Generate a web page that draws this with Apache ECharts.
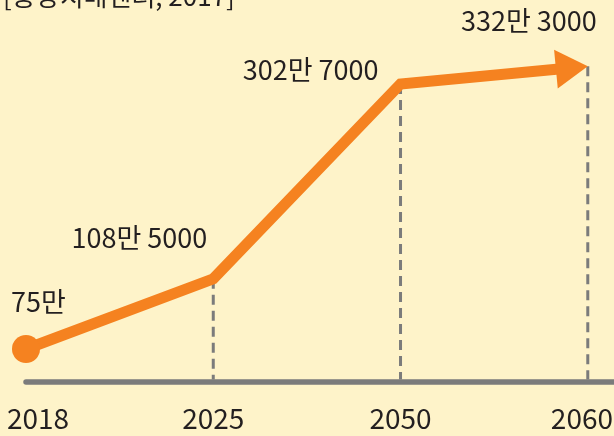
<!DOCTYPE html>
<html><head><meta charset="utf-8">
<script src="https://cdn.jsdelivr.net/npm/echarts@6/dist/echarts.min.js"></script>
<style>html,body{margin:0;padding:0;background:#FEF3C9;}#c{width:614px;height:436px;}</style>
</head><body><div id="c"></div>
<script>
// ---- data ----
const years = ['2018', '2025', '2050', '2060'];
const values = [75, 108.5, 302.7, 332.3];            // 만 명
const valueLabels = ['75만', '108만 5000', '302만 7000', '332만 3000'];
const sourceText = '[중앙치매센터, 2017]';

// ---- style ----
const BG = '#FEF3C9', ORANGE = '#F58220', GRAY = '#7B7B7B', TEXT = '#231F20';
const FONT = '"Noto Sans CJK KR","Noto Sans",sans-serif';
const Y_MIN = 63.04, Y_MAX = 470.8;
// label placement relative to its point: [dx, dy, align]
const labelOffsets = [[-15, -47, 'left'], [-6, -41, 'right'], [-22, -14, 'right'], [9, -45, 'right']];

const seriesData = values.map((v, i) => [i, v]);

const chart = echarts.init(document.getElementById('c'), null, { renderer: 'canvas' });

function renderAll(params, api) {
  if (params.dataIndex !== 0) return null;
  const pts = seriesData.map(d => api.coord(d));
  const axisY = api.coord([0, Y_MIN])[1];
  const W = api.getWidth();
  const children = [];
  // dashed drop lines
  for (let i = 1; i < pts.length; i++) {
    children.push({
      type: 'line',
      shape: { x1: pts[i][0], y1: pts[i][1], x2: pts[i][0], y2: axisY - 2.5 },
      style: { stroke: GRAY, lineWidth: 3, lineDash: [10, 6] }
    });
  }
  // arrow geometry at last point
  const n = pts.length;
  const P = pts[n - 1], Q = pts[n - 2];
  let dx = P[0] - Q[0], dy = P[1] - Q[1];
  const L = Math.sqrt(dx * dx + dy * dy); dx /= L; dy /= L;
  const ahLen = 32, ahHalf = 19.5;
  const bx = P[0] - dx * ahLen, by = P[1] - dy * ahLen;
  const nx = -dy, ny = dx;
  const linePts = pts.slice(0, n - 1).concat([[bx + dx * 3, by + dy * 3]]);
  children.push({
    type: 'polyline',
    shape: { points: linePts },
    style: { stroke: ORANGE, lineWidth: 11, fill: null, lineJoin: 'miter', lineCap: 'butt' }
  });
  children.push({
    type: 'polygon',
    shape: { points: [P, [bx + nx * ahHalf, by + ny * ahHalf], [bx - nx * ahHalf, by - ny * ahHalf]] },
    style: { fill: ORANGE }
  });
  children.push({
    type: 'circle',
    shape: { cx: pts[0][0], cy: pts[0][1], r: 14 },
    style: { fill: ORANGE }
  });
  // value labels
  for (let i = 0; i < n; i++) {
    const o = labelOffsets[i];
    children.push({
      type: 'text',
      x: pts[i][0] + o[0], y: pts[i][1] + o[1],
      style: { text: valueLabels[i], fill: TEXT, font: '27px ' + FONT, align: o[2], verticalAlign: 'middle' }
    });
  }
  // year labels, kept inside the canvas
  for (let i = 0; i < n; i++) {
    const fs = 28;
    const tw = echarts.format.getTextRect ? echarts.format.getTextRect(years[i], fs + 'px ' + FONT).width : 60;
    let cx = pts[i][0];
    cx = Math.max(7 + tw / 2, Math.min(W - 1 - tw / 2, cx));
    children.push({
      type: 'text',
      x: cx, y: axisY + 36,
      style: { text: years[i], fill: TEXT, font: fs + 'px ' + FONT, align: 'center', verticalAlign: 'middle' }
    });
  }
  return { type: 'group', children: children };
}

chart.setOption({
  backgroundColor: BG,
  animation: false,
  grid: { left: 26, right: 0, top: 0, bottom: 54 },
  xAxis: {
    type: 'value', min: 0, max: 3.14,
    axisLine: { show: true, lineStyle: { color: GRAY, width: 5.5 } },
    axisTick: { show: false }, axisLabel: { show: false }, splitLine: { show: false }
  },
  yAxis: { type: 'log', min: Y_MIN, max: Y_MAX, show: false, splitLine: { show: false } },
  graphic: [{
    type: 'text', x: 3, y: -4,
    style: { text: sourceText, fill: TEXT, font: '26px ' + FONT, verticalAlign: 'middle' }
  }],
  series: [{
    type: 'custom',
    clip: false,
    data: seriesData,
    renderItem: renderAll
  }]
});
</script>
</body></html>
